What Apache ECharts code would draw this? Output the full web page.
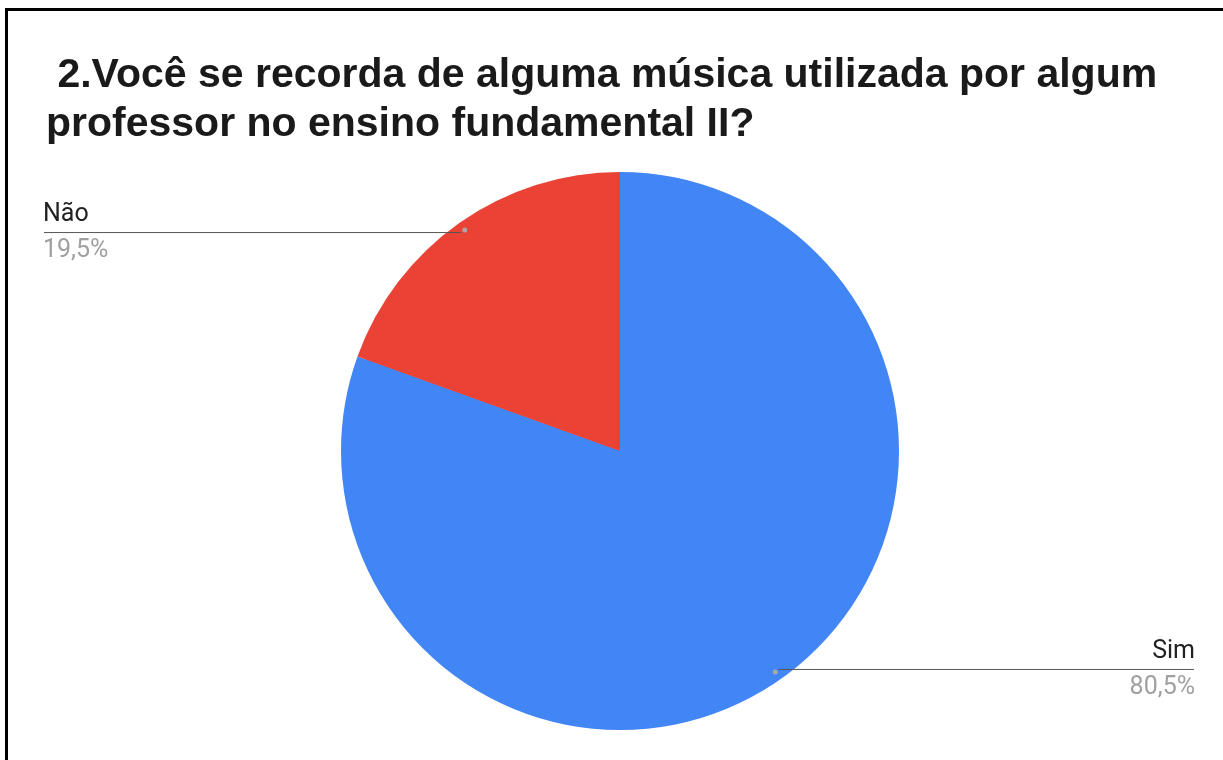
<!DOCTYPE html>
<html>
<head>
<meta charset="utf-8">
<title>Música no ensino fundamental II</title>
<script src="https://cdn.jsdelivr.net/npm/echarts@6/dist/echarts.min.js"></script>
<style>
  html, body { margin: 0; padding: 0; background: #ffffff; }
  #chart { width: 1223px; height: 760px; }
</style>
</head>
<body>
<div id="chart"></div>
<script>
// Answers and their shares (%)
const categories = ['Sim', 'Não'];
const shares = [80.5, 19.5];
const shareLabels = ['80,5%', '19,5%'];
const colors = ['#4285F4', '#EA4335'];

const titleText = ' 2.Você se recorda de alguma música utilizada por algum\nprofessor no ensino fundamental II?';

const labelFont = 'Roboto, Arial, sans-serif';
const labelSize = 25;

// widest callout text, so the leader line can run underneath the label up to the edge
const measureCtx = document.createElement('canvas').getContext('2d');
measureCtx.font = labelSize + 'px ' + labelFont;
const labelWidth = Math.max(...categories.concat(shareLabels).map(t => measureCtx.measureText(t).width));

const pieData = categories.map((name, i) => ({
  name: name,
  value: shares[i],
  pct: shareLabels[i],
  itemStyle: { color: colors[i] }
}));

const PIE_CENTER = [605, 451];
const hiddenItem = { color: 'rgba(0,0,0,0)', borderWidth: 0 };

const chart = echarts.init(document.getElementById('chart'), null, { renderer: 'canvas' });

chart.setOption({
  animation: false,
  backgroundColor: '#ffffff',
  title: {
    text: titleText,
    left: 41,
    top: 46,
    textStyle: {
      fontFamily: '"Liberation Sans", Arial, sans-serif',
      fontWeight: 'bold',
      fontSize: 41,
      lineHeight: 49,
      color: '#1a1a1a'
    }
  },
  graphic: [{
    type: 'rect',
    silent: true,
    shape: { x: 6.5, y: 9.5, width: 1400, height: 900 },
    style: { fill: 'none', stroke: '#000000', lineWidth: 3 }
  }],
  series: [
    {
      // the pie itself
      type: 'pie',
      left: 15,
      right: 0,
      center: PIE_CENTER,
      radius: 279,
      startAngle: 90,
      clockwise: true,
      silent: true,
      label: { show: false },
      labelLine: { show: false },
      itemStyle: { borderWidth: 0 },
      emphasis: { disabled: true },
      data: pieData
    },
    {
      // invisible ring carrying the callout labels
      type: 'pie',
      left: 15,
      right: 0,
      center: PIE_CENTER,
      radius: 267,
      startAngle: 90,
      clockwise: true,
      silent: true,
      z: 3,
      itemStyle: hiddenItem,
      emphasis: { disabled: true },
      label: {
        show: true,
        position: 'outside',
        alignTo: 'edge',
        edgeDistance: 28,
        distanceToLabelLine: -labelWidth + 1,
        formatter: p => '{n|' + p.name + '}\n{p|' + p.data.pct + '}',
        rich: {
          n: { fontFamily: labelFont, fontSize: labelSize, lineHeight: 36, color: '#222222' },
          p: { fontFamily: labelFont, fontSize: labelSize, lineHeight: 36, color: '#a0a0a0' }
        }
      },
      labelLine: {
        show: true,
        length: 0,
        length2: 20,
        lineStyle: { color: '#555555', width: 1 }
      },
      data: pieData
    },
    {
      // thin invisible ring whose inside labels mark the leader line anchors
      type: 'pie',
      left: 15,
      right: 0,
      center: PIE_CENTER,
      radius: [264, 270],
      startAngle: 90,
      clockwise: true,
      silent: true,
      z: 4,
      itemStyle: hiddenItem,
      emphasis: { disabled: true },
      label: {
        show: true,
        position: 'inside',
        align: 'center',
        verticalAlign: 'middle',
        fontSize: 1,
        lineHeight: 5,
        formatter: '{d|}',
        rich: {
          d: { width: 5, height: 5, lineHeight: 5, fontSize: 1, borderRadius: 2.5, backgroundColor: '#a8a8a8' }
        }
      },
      labelLine: { show: false },
      data: pieData
    }
  ]
});
</script>
</body>
</html>
